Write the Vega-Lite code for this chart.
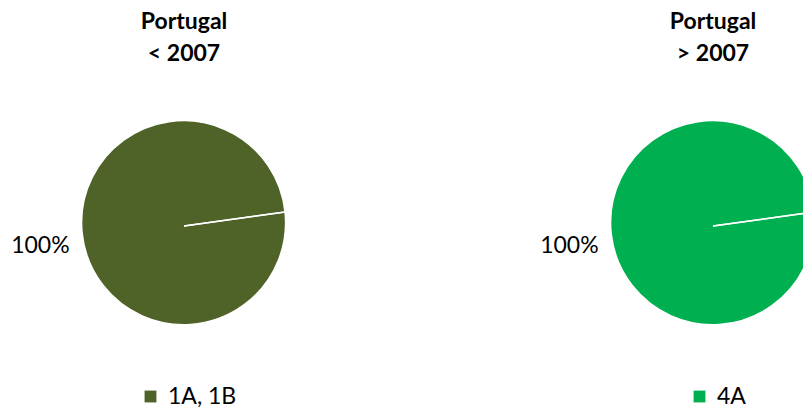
{
  "$schema": "https://vega.github.io/schema/vega-lite/v6.json",
  "padding": {"top": 11, "left": 0, "right": 0, "bottom": 0},
  "background": "white",
  "config": {"view": {"stroke": null}, "font": "Lato", "concat": {"spacing": 161}},
  "datasets": {
    "pies": [
      {"period": "< 2007", "series": "1A, 1B", "value": 1},
      {"period": "< 2007", "series": "1A, 1B", "value": 0},
      {"period": "> 2007", "series": "4A", "value": 1},
      {"period": "> 2007", "series": "4A", "value": 0}
    ]
  },
  "hconcat": [
    {
      "width": 368, "height": 300,
      "title": {"text": ["Portugal", "< 2007"], "fontSize": 23, "fontWeight": "bold", "lineHeight": 32, "offset": 10, "anchor": "middle", "color": "black", "font": "Lato"},
      "data": {"name": "pies"},
      "transform": [{"filter": "datum.period === '< 2007'"}],
      "layer": [
        {
          "mark": {"type": "arc", "outerRadius": 102, "stroke": "white", "strokeWidth": 1.5},
          "encoding": {
            "theta": {"field": "value", "type": "quantitative", "stack": true, "scale": {"range": [1.433, 7.716]}},
            "color": {"field": "series", "type": "nominal", "scale": {"range": ["#4F6228"]},
              "legend": {"orient": "none", "legendX": 139, "legendY": 309, "title": null, "symbolType": "square", "symbolSize": 140, "symbolStrokeWidth": 0, "labelFontSize": 23, "labelFont": "Lato", "labelColor": "black", "padding": 0, "labelOffset": 6}}
          }
        },
        {
          "transform": [{"filter": "datum.value > 0"}],
          "mark": {"type": "text", "radius": 145, "fontSize": 23, "font": "Lato", "color": "black"},
          "encoding": {
            "theta": {"field": "value", "type": "quantitative", "stack": true},
            "text": {"field": "value", "type": "quantitative", "format": ".0%"}
          }
        }
      ]
    },
    {
      "width": 368, "height": 300,
      "title": {"text": ["Portugal", "> 2007"], "fontSize": 23, "fontWeight": "bold", "lineHeight": 32, "offset": 10, "anchor": "middle", "color": "black", "font": "Lato"},
      "data": {"name": "pies"},
      "transform": [{"filter": "datum.period === '> 2007'"}],
      "layer": [
        {
          "mark": {"type": "arc", "outerRadius": 102, "stroke": "white", "strokeWidth": 1.5},
          "encoding": {
            "theta": {"field": "value", "type": "quantitative", "stack": true, "scale": {"range": [1.433, 7.716]}},
            "color": {"field": "series", "type": "nominal", "scale": {"range": ["#00B050"]},
              "legend": {"orient": "none", "legendX": 159, "legendY": 309, "title": null, "symbolType": "square", "symbolSize": 140, "symbolStrokeWidth": 0, "labelFontSize": 23, "labelFont": "Lato", "labelColor": "black", "padding": 0, "labelOffset": 6}}
          }
        },
        {
          "transform": [{"filter": "datum.value > 0"}],
          "mark": {"type": "text", "radius": 145, "fontSize": 23, "font": "Lato", "color": "black"},
          "encoding": {
            "theta": {"field": "value", "type": "quantitative", "stack": true},
            "text": {"field": "value", "type": "quantitative", "format": ".0%"}
          }
        }
      ]
    }
  ],
  "resolve": {"scale": {"color": "independent", "theta": "independent"}, "legend": {"color": "independent"}}
}
